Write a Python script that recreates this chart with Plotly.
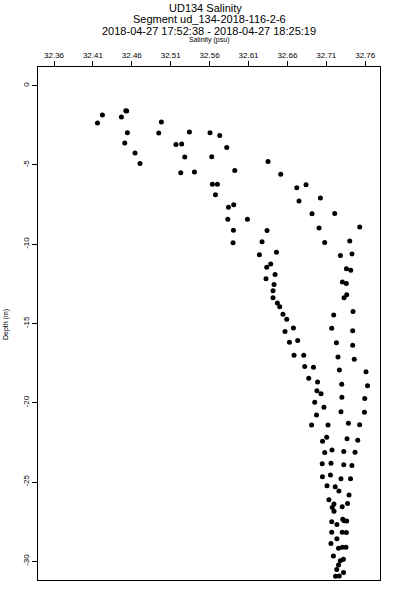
import plotly.graph_objects as go

# Salinity (psu) and depth (m)
salinity = [
    32.4222, 32.4158, 32.4522, 32.4534, 32.4466, 32.4980, 32.4543, 32.4946, 32.5340, 32.5605,
    32.5730, 32.4509, 32.5168, 32.5241, 32.5820, 32.4641, 32.5280, 32.5627, 32.4705, 32.5923,
    32.5229, 32.5405, 32.5636, 32.5700, 32.5675, 32.5842, 32.5910, 32.5833, 32.6086, 32.5906,
    32.5901, 32.6351, 32.6514, 32.6720, 32.6839, 32.7024, 32.6749, 32.6916, 32.7208, 32.6338,
    32.7006, 32.7529, 32.6274, 32.7401, 32.7079, 32.6459, 32.6240, 32.7281, 32.7430, 32.6385,
    32.6334, 32.7358, 32.7414, 32.6441, 32.6325, 32.6428, 32.7307, 32.7358, 32.6415, 32.7362,
    32.7328, 32.6415, 32.6471, 32.6501, 32.7195, 32.7443, 32.6543, 32.6591, 32.7169, 32.7439,
    32.6677, 32.6569, 32.6626, 32.6732, 32.7230, 32.7439, 32.6685, 32.6810, 32.7250, 32.7459,
    32.6822, 32.6935, 32.7268, 32.7610, 32.6874, 32.6987, 32.7298, 32.7630, 32.6979, 32.7032,
    32.7300, 32.7594, 32.6951, 32.7069, 32.7288, 32.7590, 32.6974, 32.6910, 32.7122, 32.7384,
    32.7528, 32.7105, 32.7051, 32.7366, 32.7504, 32.7079, 32.7173, 32.7324, 32.7469, 32.7047,
    32.7160, 32.7324, 32.7429, 32.7050, 32.7153, 32.7288, 32.7411, 32.7109, 32.7214, 32.7262,
    32.7392, 32.7133, 32.7198, 32.7176, 32.7199, 32.7373, 32.7304, 32.7169, 32.7236, 32.7311,
    32.7330, 32.7362, 32.7169, 32.7304, 32.7358, 32.7236, 32.7159, 32.7257, 32.7307, 32.7352,
    32.7191, 32.7279, 32.7320, 32.7257, 32.7234, 32.7218, 32.7266, 32.7321,
]
depth = [
    -1.85, -2.36, -1.58, -1.60, -1.98, -2.29, -2.97, -2.99, -2.92, -2.97,
    -3.14, -3.62, -3.71, -3.68, -3.90, -4.25, -4.50, -4.48, -4.91, -5.35,
    -5.49, -5.45, -6.21, -6.21, -6.88, -7.66, -7.51, -8.42, -8.42, -9.11,
    -9.91, -4.78, -5.58, -6.44, -6.25, -7.09, -7.28, -8.08, -8.06, -9.14,
    -8.98, -8.92, -9.85, -9.80, -9.89, -10.50, -10.67, -10.71, -10.61, -11.24,
    -11.45, -11.55, -11.64, -11.91, -12.18, -12.54, -12.39, -12.48, -12.94, -13.19,
    -13.37, -13.38, -13.70, -13.95, -14.46, -14.25, -14.41, -14.73, -15.30, -15.45,
    -15.28, -15.51, -16.18, -16.08, -16.21, -16.37, -17.00, -17.00, -17.11, -17.25,
    -17.72, -17.76, -17.94, -18.04, -18.45, -18.69, -18.83, -18.93, -19.24, -19.43,
    -19.65, -19.73, -19.97, -20.28, -20.57, -20.60, -20.77, -21.41, -21.41, -21.29,
    -21.38, -22.17, -22.42, -22.27, -22.36, -23.13, -22.98, -23.08, -23.12, -23.85,
    -23.82, -23.91, -23.96, -24.67, -24.56, -24.79, -24.79, -25.23, -25.30, -25.56,
    -25.82, -26.12, -26.38, -26.60, -26.85, -26.35, -26.56, -27.51, -27.68, -27.35,
    -27.44, -27.46, -28.17, -28.17, -28.19, -28.58, -28.87, -29.18, -29.12, -29.12,
    -29.66, -29.96, -29.87, -30.23, -30.51, -30.95, -30.92, -30.71,
]

x_ticks = [32.36, 32.41, 32.46, 32.51, 32.56, 32.61, 32.66, 32.71, 32.76]
x_tick_labels = ["32.36", "32.41", "32.46", "32.51", "32.56", "32.61", "32.66", "32.71", "32.76"]
y_ticks = [0, -5, -10, -15, -20, -25, -30]
y_tick_labels = ["0", "-5", "-10", "-15", "-20", "-25", "-30"]

title_lines = [
    "UD134 Salinity",
    "Segment ud_134-2018-116-2-6",
    "2018-04-27 17:52:38 - 2018-04-27 18:25:19",
]
x_title = "Salinity (psu)"
y_title = "Depth (m)"

FONT = "Liberation Sans, Arial, Helvetica, sans-serif"

fig = go.Figure()
fig.add_trace(go.Scatter(
    x=salinity, y=depth, mode="markers",
    marker=dict(symbol="circle", size=5, color="black", line=dict(width=0)),
    showlegend=False, hoverinfo="skip",
))

# plot area in pixels: x 38..380, y 67..580 of a 400x600 page
L, R, T, B = 38, 20, 67, 20
plot_h = 600 - T - B

def py_to_paper(py):
    return (600 - B - py) / plot_h

fig.update_layout(
    width=400, height=600,
    margin=dict(l=L, r=R, t=T, b=B, autoexpand=False),
    paper_bgcolor="white", plot_bgcolor="white",
    font=dict(family=FONT, color="black", size=8),
    xaxis=dict(
        side="top", range=[32.3394, 32.779], automargin=False,
        tickmode="array", tickvals=x_ticks, ticktext=x_tick_labels,
        ticks="outside", ticklen=5, tickwidth=1, tickcolor="black",
        showline=True, linecolor="black", linewidth=1, mirror=True,
        showgrid=False, zeroline=False,
        tickfont=dict(size=8, family=FONT, color="black"),
    ),
    yaxis=dict(
        range=[-31.18, 1.18], automargin=False,
        tickmode="array", tickvals=y_ticks, ticktext=y_tick_labels,
        ticks="outside", ticklen=5, tickwidth=1, tickcolor="black",
        tickangle=-90,
        showline=True, linecolor="black", linewidth=1, mirror=True,
        showgrid=False, zeroline=False,
        tickfont=dict(size=8, family=FONT, color="black"),
    ),
)

title_y_px = [8, 19, 31]
title_x = [0.49, 0.5, 0.5]
for line, py, tx in zip(title_lines, title_y_px, title_x):
    fig.add_annotation(
        text=line, xref="paper", yref="paper", x=tx, y=py_to_paper(py),
        showarrow=False, xanchor="center", yanchor="middle",
        font=dict(size=11, family=FONT, color="black"),
    )

fig.add_annotation(
    text=x_title, xref="paper", yref="paper", x=0.5, y=py_to_paper(40),
    showarrow=False, xanchor="center", yanchor="middle",
    font=dict(size=7, family=FONT, color="black"),
)
fig.add_annotation(
    text=y_title, xref="paper", yref="paper", x=(6 - L) / (400 - L - R), y=py_to_paper(325),
    showarrow=False, xanchor="center", yanchor="middle", textangle=-90,
    font=dict(size=7, family=FONT, color="black"),
)

fig.write_html(
    "out.html",
    config={"displayModeBar": False, "staticPlot": True},
    post_script="document.body.style.margin='0';document.body.style.overflow='hidden';",
)
